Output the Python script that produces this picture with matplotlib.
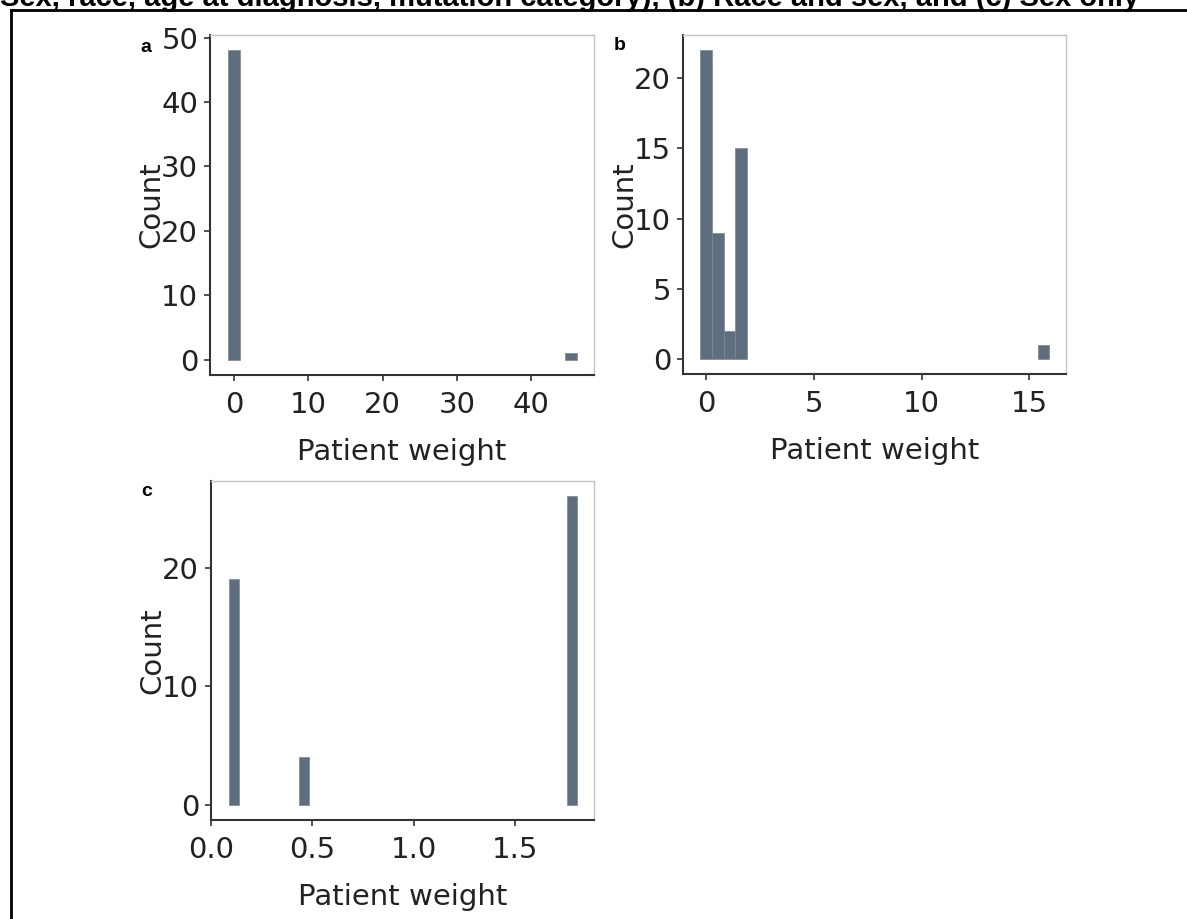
import numpy as np
import matplotlib
matplotlib.use("Agg")
import matplotlib.pyplot as plt

# histogram bins (centres) and counts
a_centers = [0.0, 45.3]
a_counts = [48, 1]
a_width = 45.3 / 29

b_centers = [0.0, 0.54, 1.08, 1.62, 15.66]
b_counts = [22, 9, 2, 15, 1]
b_width = 0.54

c_centers = [0.114, 0.459, 1.778]
c_counts = [19, 4, 26]
c_width = 0.052

a_xticks = [0, 10, 20, 30, 40]
a_yticks = [0, 10, 20, 30, 40, 50]
b_xticks = [0, 5, 10, 15]
b_yticks = [0, 5, 10, 15, 20]
c_xticks = [0.0, 0.5, 1.0, 1.5]
c_yticks = [0, 10, 20]

title = "Sex, race, age at diagnosis, mutation category), (b) Race and sex, and (c) Sex only"

W, H = 1187, 919
bar_col = "#5e6e7e"
txt_col = "#222222"
font = "DejaVu Sans"
fs = 21

fig = plt.figure(figsize=(W / 100, H / 100), dpi=100)
fig.patch.set_facecolor("white")


def px_axes(l, t, r, b):
    return fig.add_axes([l / W, 1 - b / H, (r - l) / W, (b - t) / H])


def hist_panel(ax, centers, counts, width, xticks, yticks, xlim, ylim, fmt):
    ax.bar(centers, counts, width=width, color=bar_col, edgecolor="#7a8795",
           linewidth=0.5, align="center")
    ax.set_xlim(*xlim)
    ax.set_ylim(*ylim)
    ax.set_xticks(xticks)
    ax.set_yticks(yticks)
    ax.set_xticklabels([fmt(v) for v in xticks])
    for side in ["top", "right"]:
        ax.spines[side].set_color("#c4c4c4")
        ax.spines[side].set_linewidth(1.0)
    for side in ["left", "bottom"]:
        ax.spines[side].set_color("#333333")
        ax.spines[side].set_linewidth(1.5)
    ax.tick_params(direction="out", length=4.5, width=1.2, color="#333333",
                   labelsize=fs, labelcolor=txt_col)
    ax.tick_params(axis="x", pad=7)
    ax.tick_params(axis="y", pad=4)
    for lab in ax.get_xticklabels() + ax.get_yticklabels():
        lab.set_fontfamily(font)
    ax.set_xlabel("Patient weight", fontsize=fs, color=txt_col,
                  fontfamily=font, labelpad=14)
    ax.set_ylabel("Count", fontsize=fs, color=txt_col, fontfamily=font,
                  labelpad=-3)


ax_a = px_axes(210, 35, 594, 375)
hist_panel(ax_a, a_centers, a_counts, a_width, a_xticks, a_yticks,
           (-3.2, 48.4), (-2.4, 50.4), lambda v: f"{v:g}")

ax_b = px_axes(683, 35, 1066, 374)
hist_panel(ax_b, b_centers, b_counts, b_width, b_xticks, b_yticks,
           (-1.07, 16.7), (-1.1, 23.1), lambda v: f"{v:g}")

ax_c = px_axes(211, 481, 594, 820)
hist_panel(ax_c, c_centers, c_counts, c_width, c_xticks, c_yticks,
           (0.0, 1.887), (-1.3, 27.3), lambda v: f"{v:.1f}")

# panel letters
for lab, x, y in [("a", 140, 47), ("b", 614, 46), ("c", 141, 492)]:
    fig.text(x / W, 1 - y / H, lab, fontsize=14, fontweight="bold",
             family="Liberation Sans", va="center", ha="left")

# cut-off caption at the top and the frame lines
fig.text(0 / W, 1 - 6 / H, title, fontsize=21, fontweight="bold",
         family="Liberation Sans", va="baseline", ha="left")
fig.add_artist(plt.Line2D([11 / W, 1], [1 - 10 / H, 1 - 10 / H],
                          color="black", lw=2, transform=fig.transFigure))
fig.add_artist(plt.Line2D([11 / W, 11 / W], [1 - 10 / H, 0],
                          color="black", lw=2, transform=fig.transFigure))

fig.savefig("out.png", dpi=100)
